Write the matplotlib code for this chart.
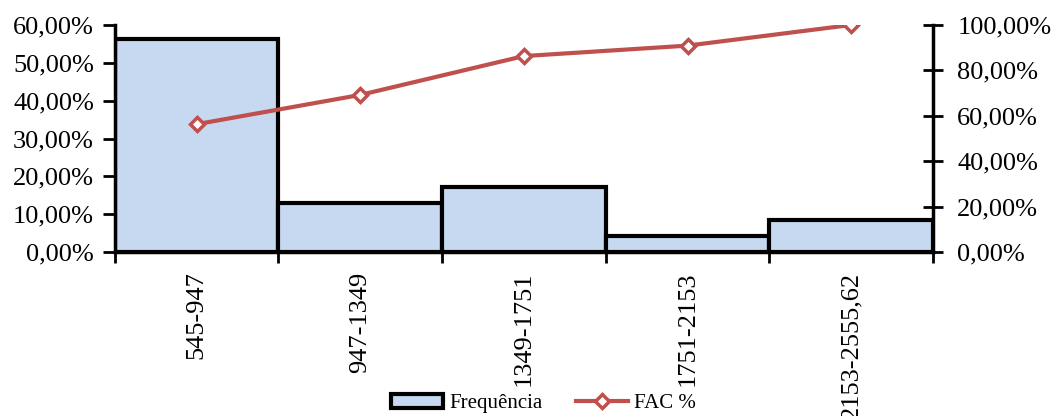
import matplotlib
matplotlib.use("Agg")
import matplotlib.pyplot as plt
from matplotlib.patches import Patch
from matplotlib.lines import Line2D
from matplotlib.ticker import FuncFormatter
import numpy as np

classes = ["545-947", "947-1349", "1349-1751", "1751-2153", "2153-2555,62"]
frequencia = [56.3, 13.0, 17.2, 4.3, 8.6]
fac = [56.3, 69.2, 86.3, 90.9, 100.0]

BAR_FILL = "#C6D9F1"
LINE_COLOR = "#C0504D"

plt.rcParams["font.family"] = ["Liberation Serif", "DejaVu Serif"]


def pct(v, _pos):
    return f"{v:.2f}%".replace(".", ",")


fig = plt.figure(figsize=(10.53, 4.16), dpi=100)
ax = fig.add_axes([0.109, 0.394, 0.777, 0.546])
x = np.arange(len(classes))

ax.bar(x, frequencia, width=1.0, color=BAR_FILL, edgecolor="black", linewidth=3.0, zorder=2)
ax.set_xlim(-0.5, len(classes) - 0.5)
ax.set_ylim(0, 60)
ax.set_yticks(np.arange(0, 61, 10))
ax.yaxis.set_major_formatter(FuncFormatter(pct))

# ticks sit on the class boundaries, labels in the middle of each class
ax.set_xticks(np.arange(-0.5, len(classes), 1.0))
ax.set_xticklabels([])
ax.set_xticks(x, minor=True)
ax.set_xticklabels(classes, minor=True, rotation=90, va="top", ha="center", fontsize=19)
ax.tick_params(axis="x", which="minor", length=0, pad=14)
ax.tick_params(axis="x", which="major", length=8, width=2, direction="out")
ax.tick_params(axis="y", length=9, width=2, direction="out", labelsize=19, pad=6)

for side in ["top", "right"]:
    ax.spines[side].set_visible(False)
for side in ["left", "bottom"]:
    ax.spines[side].set_linewidth(2.5)

ax2 = ax.twinx()
ax2.plot(x, fac, color=LINE_COLOR, linewidth=3, marker="D", markersize=7,
         markerfacecolor="white", markeredgecolor=LINE_COLOR, markeredgewidth=2.5, zorder=3)
ax2.set_ylim(0, 100)
ax2.set_yticks(np.arange(0, 101, 20))
ax2.yaxis.set_major_formatter(FuncFormatter(pct))
ax2.tick_params(axis="y", length=15, width=2, direction="inout", labelsize=19, pad=10)
for side in ["top", "left", "bottom"]:
    ax2.spines[side].set_visible(False)
ax2.spines["right"].set_linewidth(2.5)

handles = [
    Patch(facecolor=BAR_FILL, edgecolor="black", linewidth=3, label="Frequência"),
    Line2D([0], [0], color=LINE_COLOR, linewidth=3, marker="D", markersize=7,
           markerfacecolor="white", markeredgecolor=LINE_COLOR, markeredgewidth=2.5, label="FAC %"),
]
fig.legend(handles=handles, loc="center", bbox_to_anchor=(0.516, 0.03), ncol=2, frameon=False,
           fontsize=15, handlelength=2.5, columnspacing=1.6, handletextpad=0.3)

fig.savefig("out.png", dpi=100)
